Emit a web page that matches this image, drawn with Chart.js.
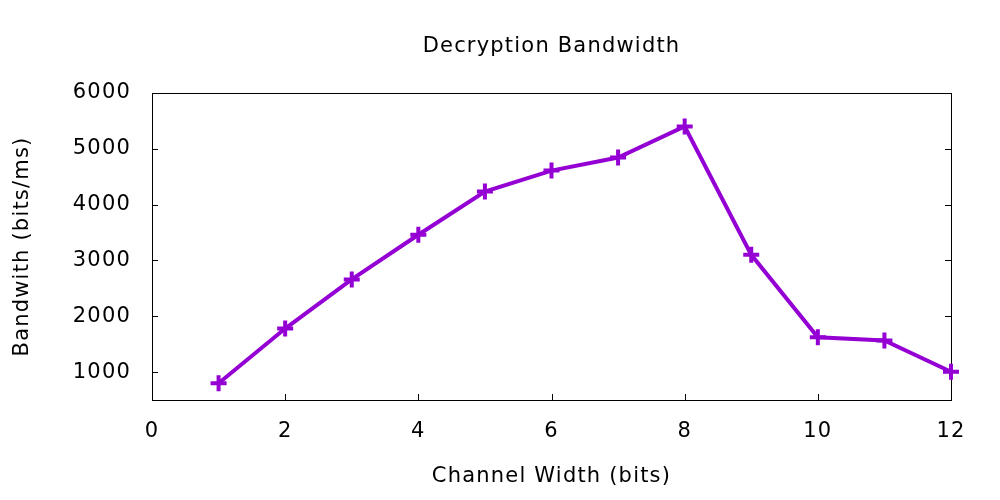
<!DOCTYPE html>
<html>
<head>
<meta charset="utf-8">
<style>
  html, body { margin: 0; padding: 0; background: #fff; }
  #wrap { width: 1000px; height: 500px; position: relative; }
</style>
<script src="https://cdn.jsdelivr.net/npm/chart.js@4/dist/chart.umd.min.js"></script>
</head>
<body>
<div id="wrap"><canvas id="c" width="1000" height="500"></canvas></div>
<script>
const channelWidth = [1, 2, 3, 4, 5, 6, 7, 8, 9, 10, 11, 12];
const bandwidth = [800, 1780, 2660, 3460, 4235, 4610, 4845, 5400, 3100, 1625, 1565, 1005];
const xTicks = [0, 2, 4, 6, 8, 10, 12];
const yTicks = [1000, 2000, 3000, 4000, 5000, 6000];
const chartTitle = 'Decryption Bandwidth';
const xTitle = 'Channel Width (bits)';
const yTitle = 'Bandwith (bits/ms)';

const FONT = '"DejaVu Sans", "Liberation Sans", Arial, sans-serif';
const FS = 21;
const LS = '1.2px';
Chart.defaults.font.family = FONT;
Chart.defaults.font.size = FS;
Chart.defaults.color = '#000';

const spacingPlugin = {
  id: 'spacing',
  beforeUpdate(chart) { chart.ctx.letterSpacing = LS; },
  beforeLayout(chart) { chart.ctx.letterSpacing = LS; },
  beforeDraw(chart) { chart.ctx.letterSpacing = LS; }
};

const framePlugin = {
  id: 'frame',
  beforeDatasetsDraw(chart) {
    const { ctx, chartArea: a, scales } = chart;
    ctx.save();
    ctx.strokeStyle = '#000';
    ctx.lineWidth = 1;
    ctx.strokeRect(Math.round(a.left) + 0.5, Math.round(a.top) + 0.5,
                   Math.round(a.right - a.left), Math.round(a.bottom - a.top));
    const tl = 6;
    ctx.beginPath();
    scales.y.ticks.forEach(t => {
      const y = Math.round(scales.y.getPixelForValue(t.value)) + 0.5;
      ctx.moveTo(a.left, y); ctx.lineTo(a.left + tl, y);
      ctx.moveTo(a.right, y); ctx.lineTo(a.right - tl, y);
    });
    scales.x.ticks.forEach(t => {
      const x = Math.round(scales.x.getPixelForValue(t.value)) + 0.5;
      ctx.moveTo(x, a.bottom); ctx.lineTo(x, a.bottom - tl);
    });
    ctx.stroke();
    ctx.restore();
  }
};

new Chart(document.getElementById('c'), {
  type: 'line',
  data: {
    datasets: [{
      data: channelWidth.map((x, i) => ({ x: x, y: bandwidth[i] })),
      borderColor: '#9400D3',
      backgroundColor: '#9400D3',
      borderWidth: 4,
      pointStyle: 'cross',
      pointRadius: 8,
      pointBorderWidth: 4,
      pointBorderColor: '#9400D3',
      tension: 0,
      clip: false
    }]
  },
  options: {
    responsive: false,
    animation: false,
    devicePixelRatio: 1,
    layout: { padding: { left: 0, right: 49, top: 0, bottom: 0 } },
    plugins: {
      legend: { display: false },
      tooltip: { enabled: false },
      title: {
        display: true,
        fullSize: false,
        text: chartTitle,
        font: { size: FS, weight: 'normal', family: FONT, lineHeight: 1.2 },
        color: '#000',
        padding: { top: 34, bottom: 33.8 }
      }
    },
    scales: {
      x: {
        type: 'linear',
        min: 0, max: 12,
        afterBuildTicks(s) { s.ticks = xTicks.map(v => ({ value: v })); },
        afterFit(s) { s.height = 100; },
        grid: { display: false, drawTicks: false },
        border: { display: false },
        ticks: { padding: 19, font: { size: FS }, color: '#000', maxRotation: 0, autoSkip: false,
                 callback: v => String(v) },
        title: { display: true, text: xTitle, font: { size: FS }, color: '#000', padding: { top: 0, bottom: 11 } }
      },
      y: {
        type: 'linear',
        min: 500, max: 6000,
        afterBuildTicks(s) { s.ticks = yTicks.map(v => ({ value: v })); },
        afterFit(s) { s.width = 152; },
        grid: { display: false, drawTicks: false },
        border: { display: false },
        ticks: { padding: 21, font: { size: FS }, color: '#000', autoSkip: false,
                 callback: v => String(v) },
        title: { display: true, text: yTitle, font: { size: FS }, color: '#000', padding: { top: 10, bottom: 0 } }
      }
    }
  },
  plugins: [spacingPlugin, framePlugin]
});
</script>
</body>
</html>
